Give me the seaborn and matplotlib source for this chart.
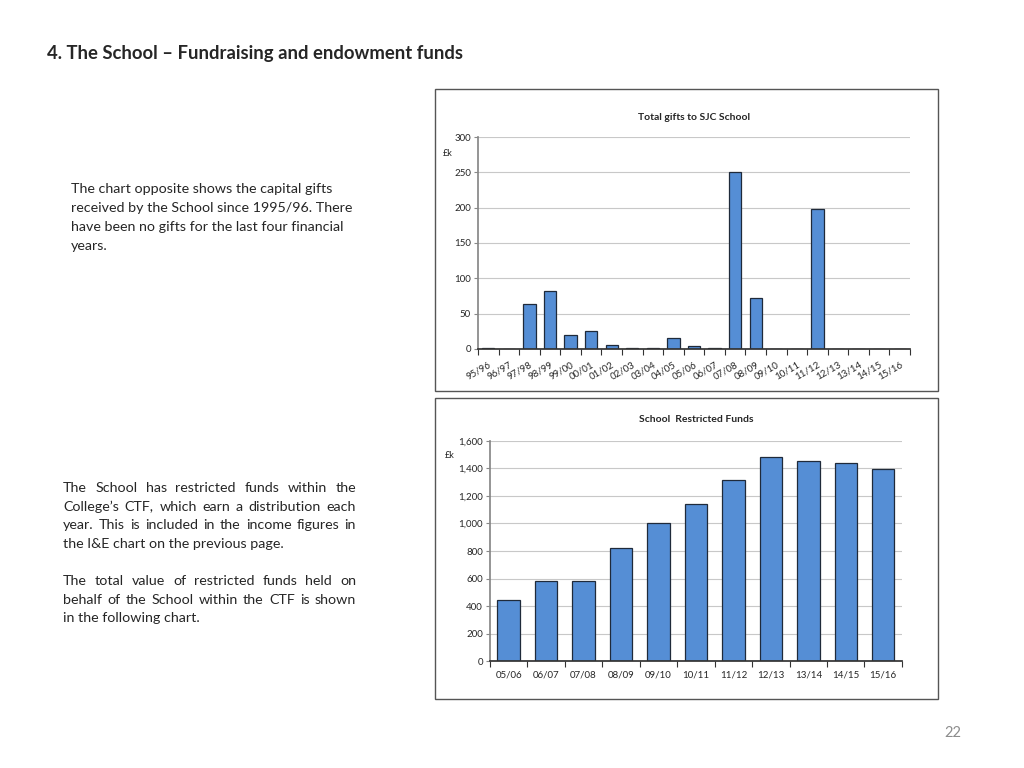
import matplotlib
matplotlib.use("Agg")
import matplotlib.pyplot as plt
import seaborn as sns
from matplotlib.patches import Rectangle
from matplotlib.ticker import FuncFormatter


# total gifts to SJC School, £k
gift_years = ["95/96", "96/97", "97/98", "98/99", "99/00", "00/01", "01/02", "02/03",
              "03/04", "04/05", "05/06", "06/07", "07/08", "08/09", "09/10", "10/11",
              "11/12", "12/13", "13/14", "14/15", "15/16"]
gift_values = [1, 0, 63, 82, 20, 25, 5, 1, 2, 16, 4, 1, 250, 72, 0, 0, 198, 0, 0, 0, 0]

# school restricted funds, £k
fund_years = ["05/06", "06/07", "07/08", "08/09", "09/10", "10/11", "11/12", "12/13",
              "13/14", "14/15", "15/16"]
fund_values = [445, 585, 580, 820, 1000, 1140, 1315, 1480, 1452, 1438, 1398]

bar_color = "#558ED5"
edge_color = "#1F2A3A"

sns.set_theme(style="white")
plt.rcParams["font.family"] = ["Lato", "DejaVu Sans"]

fig = plt.figure(figsize=(10.24, 7.68), dpi=100)

# frames round the two charts
for y0, h in [(0.4909, 0.3932), (0.0898, 0.3919)]:
    fig.patches.append(Rectangle((0.4248, y0), 0.4912, h, transform=fig.transFigure,
                                 fill=False, edgecolor="#555555", linewidth=1.0))


def style_axis(ax, n):
    ax.set_xlim(-0.5, n - 0.5)
    ax.yaxis.grid(True, color="#C8C8C8", linewidth=0.8)
    ax.set_axisbelow(True)
    for s in ["top", "right"]:
        ax.spines[s].set_visible(False)
    ax.spines["left"].set_color("#888888")
    ax.spines["bottom"].set_color("#333333")
    ax.tick_params(axis="y", which="major", left=True, length=3, width=0.8,
                   color="#888888", labelsize=7, pad=2)
    ax.set_xticks([i - 0.5 for i in range(n + 1)], minor=True)
    ax.tick_params(axis="x", which="minor", bottom=True, length=4, width=0.8, color="#333333")
    ax.tick_params(axis="x", which="major", bottom=False, labelsize=7, pad=2)
    ax.set_xlabel("")
    ax.set_ylabel("")


# top chart
ax1 = fig.add_axes([0.4668, 0.5456, 0.4219, 0.276])
sns.barplot(x=gift_years, y=gift_values, color=bar_color, saturation=1, width=0.6,
            edgecolor=edge_color, linewidth=0.9, ax=ax1)
style_axis(ax1, len(gift_years))
ax1.set_ylim(0, 300)
ax1.set_yticks(range(0, 301, 50))
ax1.set_xticks(range(len(gift_years)))
ax1.set_xticklabels(gift_years, rotation=30, ha="right", rotation_mode="anchor")
ax1.set_title("Total gifts to SJC School", fontsize=7.5, fontweight="bold", pad=12)
fig.text(448 / 1024, 1 - 154 / 768, "£k", fontsize=6.5, va="center", ha="center")

# bottom chart
ax2 = fig.add_axes([0.4785, 0.1393, 0.4023, 0.2865])
sns.barplot(x=fund_years, y=fund_values, color=bar_color, saturation=1, width=0.6,
            edgecolor=edge_color, linewidth=0.9, ax=ax2)
style_axis(ax2, len(fund_years))
ax2.set_ylim(0, 1600)
ax2.set_yticks(range(0, 1601, 200))
ax2.yaxis.set_major_formatter(FuncFormatter(lambda v, p: f"{int(v):,}"))
ax2.tick_params(axis="x", which="major", pad=1)
ax2.set_title("School  Restricted Funds", fontsize=7.5, fontweight="bold", pad=14)
fig.text(450 / 1024, 1 - 456 / 768, "£k", fontsize=6.5, va="center", ha="center")

# page text
fig.text(47 / 1024, 1 - 53 / 768, "4. The School \u2013 Fundraising and endowment funds",
         fontsize=13.3, fontweight="bold", va="center", ha="left")

para1 = ["The chart opposite shows the capital gifts",
         "received by the School since 1995/96. There",
         "have been no gifts for the last four financial",
         "years."]
for i, line in enumerate(para1):
    fig.text(71 / 1024, 1 - (189 + i * 19) / 768, line, fontsize=10.3, va="center")

para2 = ["The School has restricted funds within the",
         "College\u2019s CTF, which earn a distribution each",
         "year. This is included in the income figures in",
         "the I&E chart on the previous page.",
         "",
         "The total value of restricted funds held on",
         "behalf of the School within the CTF is shown",
         "in the following chart."]
last_lines = {3, 7}
left, right = 63 / 1024, 356 / 1024
renderer = fig.canvas.get_renderer()
for i, line in enumerate(para2):
    if not line:
        continue
    y = 1 - (488 + i * 18.6) / 768
    words = line.split(" ")
    if i in last_lines or len(words) < 2:
        fig.text(left, y, line, fontsize=10.3, va="center")
        continue
    # justify: spread the words over the column width
    objs = [fig.text(0, y, w, fontsize=10.3, va="center") for w in words]
    widths = [o.get_window_extent(renderer).width / fig.bbox.width for o in objs]
    gap = (right - left - sum(widths)) / (len(words) - 1)
    x = left
    for o, w in zip(objs, widths):
        o.set_x(x)
        x += w + gap

fig.text(953 / 1024, 1 - 733 / 768, "22", fontsize=10.5, color="#8C8C8C", va="center", ha="center")

fig.savefig("out.png", dpi=100, facecolor="white")
